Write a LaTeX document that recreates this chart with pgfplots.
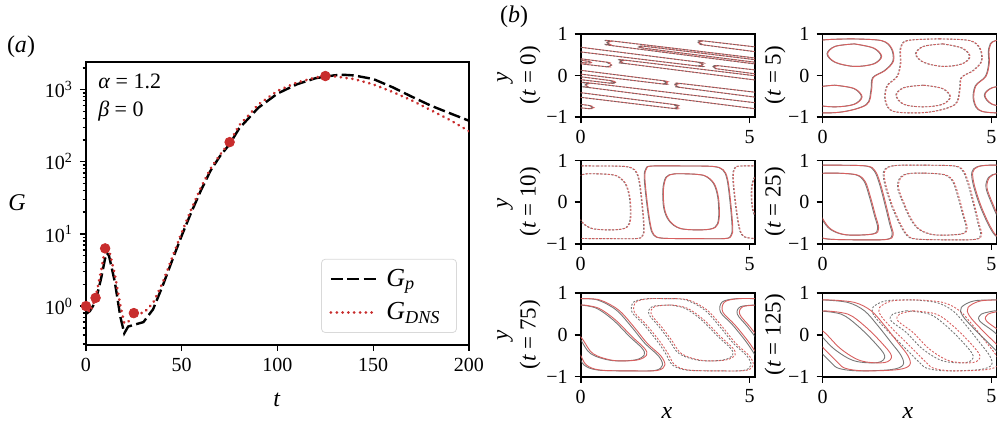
\documentclass[border=0pt]{standalone}
\usepackage{fontspec}
\setmainfont{Liberation Serif}
\usepackage{pgfplots}
\usepackage{pgfplotstable}
\pgfplotsset{compat=1.18}
\definecolor{dnsred}{RGB}{200,45,45}
\definecolor{cred}{RGB}{215,95,95}
\definecolor{cblk}{RGB}{95,95,95}

% ---------------- panel (a) data ----------------
\pgfplotstableread{
t G
0 0.78
2 0.85
5 1.15
8 2.5
10 4.6
11 5.4
12 5.0
15 2.2
18 0.7
20 0.42
22 0.52
25 0.55
30 0.6
35 0.9
40 1.9
45 4.3
50 9.5
55 20
60 40
65 75
70 120
75 175
80 290
90 560
100 880
110 1180
120 1440
130 1580
135 1600
140 1570
150 1400
160 1080
170 800
180 600
190 470
200 370
}\tGp
\pgfplotstableread{
t G
0 1.0
2 0.82
5 1.3
8 3.2
10 6.3
12 6.0
15 2.8
18 1.0
20 0.58
22 0.6
25 0.8
30 0.8
35 1.1
40 2.1
45 4.7
50 10.5
55 22
60 44
65 80
70 125
75 187
80 320
90 620
100 960
110 1250
120 1470
125 1540
130 1520
140 1400
150 1180
160 930
170 710
180 520
190 380
200 265
}\tDNS

% ---------------- panel (b) contour data ----------------
\pgfplotstableread{
x y
0.76 0.79
0.86 0.815
0.96 0.826
7 0.236
7 0.096
0.96 0.714
0.86 0.745
0.76 0.79
nan nan
1.79 0.687
1.99 0.691
7 0.196
7 0.136
1.99 0.643
1.79 0.687
nan nan
3.46 0.80
3.56 0.822
3.66 0.828
7 0.506
7 0.386
3.66 0.732
3.56 0.758
3.46 0.80
nan nan
-2 0.612
0.7 0.328
0.8 0.305
0.9 0.252
0.8 0.218
0.7 0.216
-2 0.472
nan nan
-2 0.572
0.1 0.356
0.3 0.312
0.1 0.308
-2 0.512
nan nan
-2 0.882
3.4 0.33
3.5 0.31
3.6 0.262
3.5 0.236
3.4 0.234
-2 0.762
nan nan
2.77 -0.22
2.87 -0.2
2.97 -0.192
7 -0.583
7 -0.703
2.97 -0.288
2.87 -0.27
2.77 -0.22
nan nan
0.12 -0.22
0.22 -0.195
0.32 -0.184
7 -0.838
7 -0.978
0.32 -0.296
0.22 -0.28
0.12 -0.22
nan nan
-2 -0.482
0.17 -0.709
0.27 -0.73
0.37 -0.769
0.27 -0.787
0.17 -0.789
-2 -0.582
nan nan
-2 -0.207
2.67 -0.686
2.77 -0.71
2.87 -0.754
2.77 -0.78
2.67 -0.782
-2 -0.327
nan nan
-2 0.33
2.35 -0.115
2.45 -0.135
2.55 -0.175
2.45 -0.193
2.35 -0.195
-2 0.23
nan nan
3.9 0.214
4.0 0.228
4.1 0.234
7 -0.046
7 -0.146
4.1 0.154
4.0 0.168
3.9 0.214
nan nan
1.15 0.345
1.25 0.36
1.35 0.365
7 -0.19
7 -0.29
1.35 0.285
1.25 0.295
1.15 0.345
nan nan
-2 0.176
0.8 -0.112
0.9 -0.13
1.0 -0.164
0.9 -0.175
0.8 -0.176
-2 0.096
}\tZero

\pgfplotstableread{
x y
3.45 0.88
4.35 0.84
4.65 0.65
4.7 0.35
4.45 0.12
4.1 -0.05
4.05 -0.35
3.9 -0.7
3.1 -0.88
2.1 -0.86
1.85 -0.6
1.9 -0.25
2.2 -0.02
2.3 0.3
2.3 0.65
2.5 0.84
3.45 0.88
nan nan
3.55 0.76
2.98 0.70
2.75 0.52
2.98 0.32
3.55 0.22
4.12 0.28
4.35 0.46
4.12 0.66
3.55 0.76
nan nan
2.97 -0.23
2.40 -0.29
2.17 -0.47
2.40 -0.69
2.97 -0.75
3.54 -0.69
3.77 -0.51
3.54 -0.31
2.97 -0.23
}\tFive

\pgfplotstableread{
x y
3.1 0.87
3.9 0.86
4.2 0.78
4.33 0.55
4.42 0.0
4.48 -0.6
4.44 -0.8
4.25 -0.87
3.3 -0.87
2.4 -0.86
2.15 -0.78
2.05 -0.55
1.95 0.0
1.88 0.6
1.93 0.81
2.1 0.87
3.1 0.87
nan nan
3.2 0.68
3.65 0.64
3.93 0.45
4.06 0.1
4.08 -0.38
3.97 -0.6
3.6 -0.66
2.95 -0.63
2.62 -0.45
2.46 -0.15
2.43 0.3
2.52 0.6
2.75 0.68
3.2 0.68
}\tTen

\pgfplotstableread{
x y
3.0 0.89
3.9 0.87
4.15 0.75
4.3 0.45
4.45 0.0
4.6 -0.5
4.68 -0.78
4.5 -0.89
3.6 -0.9
2.75 -0.88
2.5 -0.8
2.3 -0.55
2.05 -0.1
1.85 0.4
1.8 0.72
1.95 0.85
2.3 0.89
3.0 0.89
nan nan
3.0 0.70
3.6 0.66
3.85 0.5
4.0 0.15
4.15 -0.3
4.25 -0.62
4.1 -0.76
3.3 -0.78
2.85 -0.65
2.6 -0.4
2.4 -0.05
2.22 0.35
2.3 0.6
2.55 0.69
3.0 0.70
}\tTwentyFive

\pgfplotstableread{
x y
0.0 0.87
0.5 0.84
1.05 0.6
1.5 0.2
1.9 -0.2
2.3 -0.5
2.42 -0.72
2.2 -0.85
1.4 -0.86
0.5 -0.84
0.1 -0.72
-0.1 -0.45
-0.35 -0.15
-0.75 0.25
-1.1 0.55
-1.05 0.79
-0.65 0.87
0.0 0.87
nan nan
0.0 0.72
0.47 0.64
0.96 0.36
1.45 -0.04
1.82 -0.32
1.88 -0.48
1.6 -0.6
0.9 -0.61
0.3 -0.45
0.0 -0.12
-0.3 0.2
-0.6 0.5
-0.5 0.68
0.0 0.72
}\tSeventyFive

\pgfplotstableread{
x y
2.67 0.84
3.37 0.78
3.86 0.58
4.26 0.22
4.65 -0.18
4.95 -0.5
5.0 -0.72
4.65 -0.83
3.66 -0.86
3.1 -0.8
2.87 -0.66
2.38 -0.26
1.88 0.14
1.53 0.46
1.49 0.66
1.88 0.82
2.67 0.84
nan nan
2.48 0.58
3.17 0.5
3.66 0.22
4.16 -0.18
4.46 -0.5
4.26 -0.66
3.56 -0.62
2.97 -0.34
2.48 0.06
2.03 0.34
2.08 0.5
2.48 0.58
}\tOneTwentyFive

\pgfplotsset{
  bstyle/.style={
    anchor=south west, scale only axis, width=87pt, height=41.7pt,
    xmin=0, xmax=5.15, ymin=-1, ymax=1,
    xtick={0,5}, xticklabels={0,5},
    ytick={-1,0,1}, yticklabels={−1,0,1},
    tick align=outside, xtick pos=bottom, ytick pos=left,
    major tick length=3pt,
    axis line style={line width=0.9pt},
    every tick/.style={black, line width=0.8pt},
    tick label style={font=\fontsize{10}{12}\selectfont},
    unbounded coords=jump, clip=true,
  },
  solidc/.style={line width=0.45pt, smooth, tension=0.55},
  dashc/.style={line width=0.45pt, smooth, tension=0.55, dash pattern=on 1pt off 0.8pt},
  stripe/.style={line width=0.45pt, smooth, tension=0.3},
}
\newcommand{\cont}[4]{%
  \addplot[#2,cblk,opacity=0.85] table[x expr=\thisrow{x}+#3]{#1};
  \addplot[#2,cred] table[x expr=\thisrow{x}+#3+#4]{#1};
}

\begin{document}
\begin{tikzpicture}
\path[use as bounding box] (0,0) rectangle (499pt,211.5pt);

% ================= panel (a) =================
\begin{axis}[
  at={(43pt,39pt)}, anchor=south west, scale only axis,
  width=191.5pt, height=141.5pt,
  xmin=0, xmax=200, ymode=log, ymin=0.289, ymax=2410,
  xtick={0,50,100,150,200}, xticklabels={0,50,100,150,200},
  ytick={1,10,100,1000},
  yticklabels={10\textsuperscript{0},10\textsuperscript{1},10\textsuperscript{2},10\textsuperscript{3}},
  minor ytick={0.3,0.4,0.5,0.6,0.7,0.8,0.9,2,3,4,5,6,7,8,9,20,30,40,50,60,70,80,90,200,300,400,500,600,700,800,900,2000},
  tick align=outside, xtick pos=bottom, ytick pos=left,
  major tick length=3pt, minor tick length=1.7pt,
  axis line style={line width=0.8pt},
  every tick/.style={black, line width=0.7pt},
  tick label style={font=\fontsize{10}{12}\selectfont},
  legend image code/.code={\draw[#1] (0pt,0pt) -- (23pt,0pt);},
  legend cell align=left,
  legend style={at={(1,0)}, anchor=south east, xshift=-6pt, yshift=6pt,
    draw=black!15, rounded corners=2pt, fill=white,
    font=\fontsize{13}{15}\selectfont,
    inner xsep=4pt, inner ysep=3pt, row sep=2.5pt,
    nodes={inner xsep=4pt}},
]
\addplot[black, line width=1.2pt, dash pattern=on 6pt off 2.2pt] table[x=t,y=G]{\tGp};
\addlegendentry{\textit{G}\textsubscript{\textit{p}}}
\addplot[dnsred, line width=1.5pt, line cap=round, dash pattern=on 0.01pt off 2.9pt] table[x=t,y=G]{\tDNS};
\addlegendentry{\textit{G}\textsubscript{\textit{DNS}}}
\addplot[only marks, mark=*, mark size=2.4pt, dnsred, forget plot] coordinates {(0,1.0) (5,1.3) (10,6.3) (25,0.8) (75,187) (125,1540)};
\node[anchor=base west, inner sep=0pt, font=\fontsize{11}{12}\selectfont] at (rel axis cs:0.031,0.908) {\textit{α} = 1.2};
\node[anchor=base west, inner sep=0pt, font=\fontsize{11}{12}\selectfont] at (rel axis cs:0.031,0.807) {\textit{β} = 0};
\end{axis}

\node[font=\fontsize{12}{14}\selectfont] at (10.5pt,188pt) {(\textit{a})};
\node[font=\fontsize{12}{14}\selectfont] at (8.5pt,110pt) {\textit{G}};
\node[font=\fontsize{12}{14}\selectfont] at (138.5pt,11.5pt) {\textit{t}};
\node[font=\fontsize{12}{14}\selectfont] at (257pt,203pt) {(\textit{b})};

% ================= panel (b) =================
% t = 0
\begin{axis}[bstyle, at={(290.35pt,152.85pt)}]
\addplot[stripe,cred] table[x expr=\thisrow{x}+0.02]{\tZero};
\addplot[stripe,cblk,opacity=0.8,dash pattern=on 1pt off 0.8pt] table[x expr=\thisrow{x}]{\tZero};
\end{axis}
% t = 5
\begin{axis}[bstyle, at={(411.25pt,152.85pt)}]
\cont{\tFive}{dashc}{0}{0.02}
\cont{\tFive}{dashc}{5.236}{0.02}
\cont{\tFive}{dashc}{-5.236}{0.02}
\cont{\tFive}{solidc}{-2.618}{0.02}
\cont{\tFive}{solidc}{2.618}{0.02}
\end{axis}
% t = 10
\begin{axis}[bstyle, at={(290.35pt,89.5pt)}]
\cont{\tTen}{solidc}{0}{0.02}
\cont{\tTen}{solidc}{5.236}{0.02}
\cont{\tTen}{solidc}{-5.236}{0.02}
\cont{\tTen}{dashc}{-2.618}{0.02}
\cont{\tTen}{dashc}{2.618}{0.02}
\end{axis}
% t = 25
\begin{axis}[bstyle, at={(411.25pt,89.5pt)}]
\cont{\tTwentyFive}{dashc}{0}{0.03}
\cont{\tTwentyFive}{dashc}{5.236}{0.03}
\cont{\tTwentyFive}{dashc}{-5.236}{0.03}
\cont{\tTwentyFive}{solidc}{-2.618}{0.03}
\cont{\tTwentyFive}{solidc}{2.618}{0.03}
\end{axis}
% t = 75
\begin{axis}[bstyle, at={(290.35pt,23.15pt)}]
\cont{\tSeventyFive}{solidc}{0}{0.07}
\cont{\tSeventyFive}{solidc}{5.236}{0.07}
\cont{\tSeventyFive}{solidc}{-5.236}{0.07}
\cont{\tSeventyFive}{dashc}{-2.618}{0.07}
\cont{\tSeventyFive}{dashc}{2.618}{0.07}
\end{axis}
% t = 125
\begin{axis}[bstyle, at={(411.25pt,23.15pt)}]
\cont{\tOneTwentyFive}{dashc}{0}{0.2}
\cont{\tOneTwentyFive}{dashc}{5.236}{0.2}
\cont{\tOneTwentyFive}{dashc}{-5.236}{0.2}
\cont{\tOneTwentyFive}{solidc}{-2.618}{0.2}
\cont{\tOneTwentyFive}{solidc}{2.618}{0.2}
\end{axis}

% labels of panel (b)
\begin{scope}[every node/.style={font=\fontsize{11.5}{13}\selectfont, rotate=90}]
\node at (252.5pt,173pt) {\textit{y}};
\node at (252.5pt,110pt) {\textit{y}};
\node at (252.5pt,44pt) {\textit{y}};
\node at (265pt,174pt) {(\textit{t} = 0)};
\node at (265pt,110.6pt) {(\textit{t} = 10)};
\node at (265pt,44.1pt) {(\textit{t} = 75)};
\node at (387.5pt,174pt) {(\textit{t} = 5)};
\node at (387.5pt,110.6pt) {(\textit{t} = 25)};
\node at (387.5pt,44.1pt) {(\textit{t} = 125)};
\end{scope}
\node[font=\fontsize{12}{14}\selectfont] at (333.5pt,5pt) {\textit{x}};
\node[font=\fontsize{12}{14}\selectfont] at (454pt,5pt) {\textit{x}};
\end{tikzpicture}
\end{document}
